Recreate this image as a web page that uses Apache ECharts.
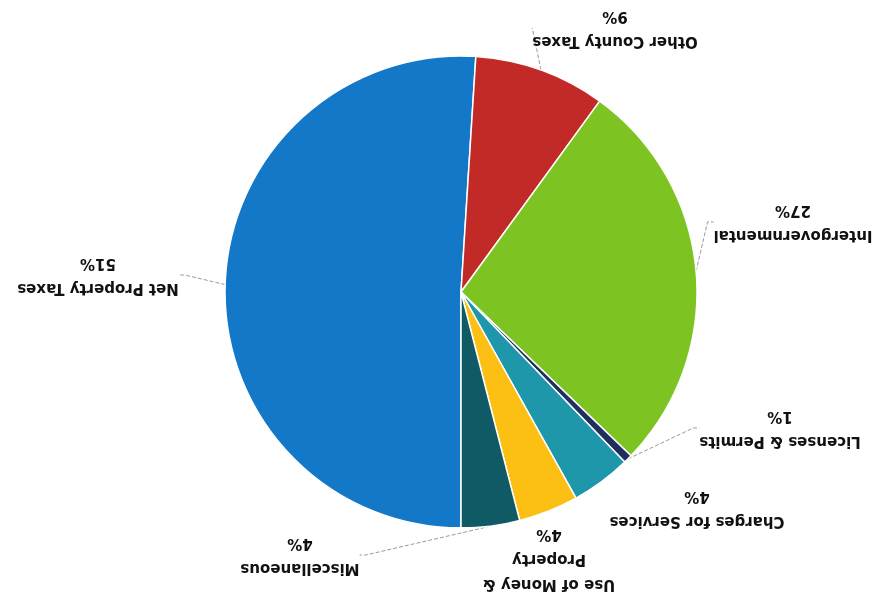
<!DOCTYPE html>
<html><head><meta charset="utf-8">
<script src="https://cdn.jsdelivr.net/npm/echarts@6/dist/echarts.min.js"></script>
<style>html,body{margin:0;padding:0;background:#fff}
#c{width:883px;height:598px;transform:rotate(180deg);}</style>
</head><body><div id="c"></div>
<script>
const categories = ['Net Property Taxes', 'Other County Taxes', 'Intergovernmental', 'Licenses & Permits', 'Charges for Services', 'Use of Money &\nProperty', 'Miscellaneous'];
const values = [51, 9, 27.2, 0.6, 4.1, 4.1, 4.0];
const colors = ['#1478C8', '#C22A28', '#7DC423', '#1F2F5F', '#1E97AA', '#FCC014', '#0F5A64'];
const showGuide = [true, true, true, true, false, false, true];
// label block centres (chart drawn upright, then the whole page is turned 180deg)
const labelCenters = [[785, 323], [268, 570], [90, 376], [103, 170], [186, 90], [334, 39], [583, 43]];

const chart = echarts.init(document.getElementById('c'), null, {renderer: 'canvas'});
chart.setOption({
  animation: false,
  series: [{
    type: 'pie',
    center: [422, 306],
    radius: 236,
    startAngle: 90,
    clockwise: true,
    data: categories.map((n, i) => ({name: n, value: values[i], itemStyle: {color: colors[i]}, labelLine: {show: showGuide[i]}})),
    itemStyle: {borderColor: '#ffffff', borderWidth: 1.5},
    label: {
      show: true,
      formatter: p => p.name + '\n' + Math.round(p.percent) + '%',
      fontFamily: 'DejaVu Sans',
      fontWeight: 'bold',
      fontSize: 15,
      lineHeight: 25,
      color: '#111'
    },
    labelLine: {show: true, length: 8, length2: 6, lineStyle: {color: '#999', width: 1, type: 'dashed'}},
    labelLayout: function (params) {
      const p = labelCenters[params.dataIndex];
      return {x: p[0], y: p[1], align: 'center', verticalAlign: 'middle'};
    },
    emphasis: {disabled: true}
  }]
});
</script></body></html>
